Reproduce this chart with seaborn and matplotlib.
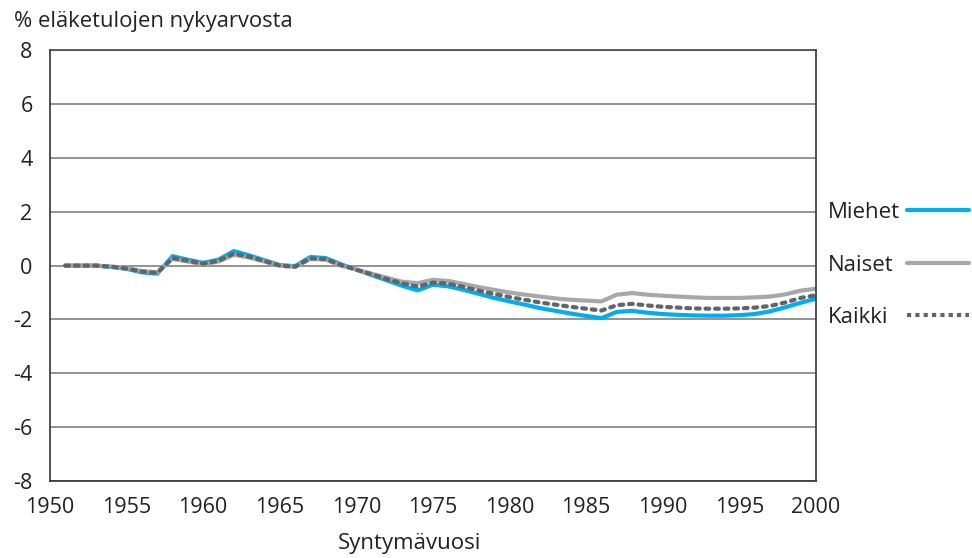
import numpy as np
import pandas as pd
import seaborn as sns
import matplotlib.pyplot as plt

# Syntymävuodet ja muutokset (% eläketulojen nykyarvosta)
vuodet = list(range(1951, 2001))

miehet = [0.0, 0.0, 0.0, -0.05, -0.12, -0.25, -0.3, 0.35, 0.22, 0.1,
          0.22, 0.54, 0.38, 0.2, 0.02, -0.02, 0.32, 0.28, 0.05, -0.15,
          -0.35, -0.55, -0.75, -0.92, -0.71, -0.77, -0.9, -1.05, -1.2, -1.33,
          -1.45, -1.58, -1.68, -1.78, -1.87, -1.95, -1.72, -1.68, -1.75, -1.8,
          -1.83, -1.85, -1.86, -1.86, -1.84, -1.8, -1.7, -1.55, -1.38, -1.23]

naiset = [0.0, 0.0, 0.0, -0.03, -0.1, -0.2, -0.25, 0.25, 0.15, 0.05,
          0.15, 0.4, 0.3, 0.15, 0.0, -0.05, 0.25, 0.22, 0.0, -0.15,
          -0.3, -0.45, -0.6, -0.65, -0.53, -0.57, -0.68, -0.8, -0.9, -1.0,
          -1.08, -1.15, -1.22, -1.27, -1.3, -1.33, -1.08, -1.02, -1.08, -1.12,
          -1.15, -1.18, -1.2, -1.2, -1.2, -1.18, -1.15, -1.07, -0.93, -0.86]

kaikki = [0.0, 0.0, 0.0, -0.04, -0.11, -0.22, -0.27, 0.28, 0.18, 0.07,
          0.18, 0.45, 0.33, 0.17, 0.0, -0.04, 0.27, 0.24, 0.02, -0.15,
          -0.32, -0.5, -0.66, -0.78, -0.63, -0.67, -0.79, -0.93, -1.05, -1.17,
          -1.27, -1.37, -1.45, -1.53, -1.6, -1.67, -1.47, -1.42, -1.48, -1.53,
          -1.56, -1.59, -1.6, -1.6, -1.59, -1.56, -1.5, -1.37, -1.2, -1.1]

df = pd.DataFrame({"vuosi": vuodet, "Miehet": miehet, "Naiset": naiset, "Kaikki": kaikki})

sns.set_style("white")
plt.rcParams["font.family"] = ["Open Sans", "DejaVu Sans"]
plt.rcParams["axes.unicode_minus"] = False

fig = plt.figure(figsize=(9.72, 5.58), dpi=100)
ax = fig.add_axes([0.0514, 0.138, 0.788, 0.772])

sns.lineplot(data=df, x="vuosi", y="Miehet", color="#00AEEF", linewidth=3, label="Miehet", ax=ax)
sns.lineplot(data=df, x="vuosi", y="Naiset", color="#A7A8AA", linewidth=3, label="Naiset", ax=ax)
sns.lineplot(data=df, x="vuosi", y="Kaikki", color="#636466", linewidth=3, label="Kaikki", ax=ax)
viiva = ax.get_lines()[2]
viiva.set_dashes((0.9, 1.4))
viiva.set_dash_capstyle("round")

ax.set_xlim(1950, 2000)
ax.set_ylim(-8, 8)
ax.set_xticks(range(1950, 2001, 5))
ax.set_yticks(range(-8, 9, 2))
ax.yaxis.grid(True, color="#808080", linewidth=1.2)
ax.set_axisbelow(True)
ax.tick_params(axis="both", direction="out", length=4.5, width=1, color="#333333",
               labelsize=15.5, labelcolor="#222222")
ax.tick_params(axis="y", pad=8)
ax.tick_params(axis="x", pad=7)
for side in ["left", "bottom", "right", "top"]:
    ax.spines[side].set_color("#333333")
    ax.spines[side].set_linewidth(1.2)
ax.spines["top"].set_color("#444444")

ax.set_xlabel("")
ax.set_ylabel("")
fig.text(409 / 972, 1 - 543 / 558, "Syntymävuosi", fontsize=16, color="#222222", ha="center", va="center")
fig.text(0.014, 0.962, "% eläketulojen nykyarvosta", fontsize=15.8, color="#222222", va="center")

leg = ax.legend(loc="center right", bbox_to_anchor=(0.997, 0.525), bbox_transform=fig.transFigure,
                frameon=False, markerfirst=False, fontsize=16, handlelength=2.8,
                labelspacing=1.42, handletextpad=0.3, borderpad=0, borderaxespad=0)
for t in leg.get_texts():
    t.set_color("#222222")
merkki = leg.get_lines()[2]
merkki.set_dashes((1.0, 1.0))
merkki.set_dash_capstyle("butt")

# tekstit vasemmalle tasattuina, viivat samaan kohtaan
fig.canvas.draw()
r = fig.canvas.get_renderer()
leveydet = [t.get_window_extent(r).width for t in leg.get_texts()]
maxw = max(leveydet)
for sarake in leg._legend_handle_box.get_children():
    for rivi in sarake.get_children():
        w = rivi.get_children()[0]._text.get_window_extent(r).width
        rivi.sep = 0.3 * 16 + (maxw - w) * 72 / fig.dpi

plt.savefig("out.png", dpi=100)
